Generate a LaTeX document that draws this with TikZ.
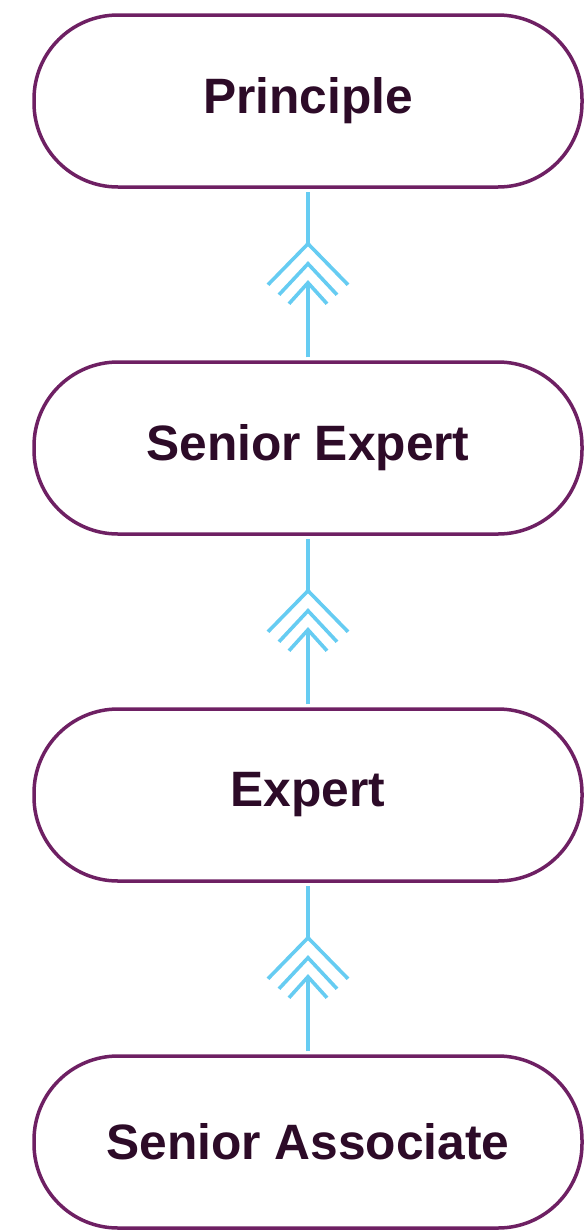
\documentclass[tikz,border=0pt]{standalone}
\usepackage{fontspec}
\setmainfont{Liberation Sans}
\usetikzlibrary{calc}
\definecolor{rimpurple}{HTML}{6E2063}
\definecolor{labeltext}{HTML}{2D0B28}
\definecolor{linkblue}{HTML}{66CCF2}
\tikzset{
    level/.style={draw=rimpurple, line width=3.5pt, fill=white, rounded corners=84pt,
        minimum width=548pt, minimum height=172pt, inner sep=0pt, text=labeltext,
        font=\fontsize{49.7}{60}\selectfont\bfseries},
    link/.style={draw=linkblue, line width=3.6pt},
    chevrons/.pic={
        \draw[link] (-40,41) -- (0,0) -- (40,41);
        \draw[link] (-29,51) -- (0,20) -- (29,51);
        \draw[link] (-19,60) -- (0,39) -- (19,60);
    }
}

\begin{document}
\begin{tikzpicture}[x=1pt,y=-1pt]
            \useasboundingbox (0,0) rectangle (588,1232);
            \node[level] (pr) at (308,101) {Principle};
            \node[level] (se) at (308,448) {Senior Expert};
            \node[level] (ex) at (308,795) {Expert};
            \node[level] (sa) at (308,1142) {Senior Associate};
            % tips of the chevrons
            \coordinate (t1) at ($(pr.south)+(0,55)$);
            \coordinate (b1) at ($(t1)+(0,39)$);
            \coordinate (t2) at ($(se.south)+(0,55)$);
            \coordinate (b2) at ($(t2)+(0,39)$);
            \coordinate (t3) at ($(ex.south)+(0,55)$);
            \coordinate (b3) at ($(t3)+(0,39)$);
            \draw[link, shorten >=3pt] (t1) -- (pr.south);
            \draw[link, shorten <=3pt] (se.north) -- (b1);
            \draw[link, shorten >=3pt] (t2) -- (se.south);
            \draw[link, shorten <=3pt] (ex.north) -- (b2);
            \draw[link, shorten >=3pt] (t3) -- (ex.south);
            \draw[link, shorten <=3pt] (sa.north) -- (b3);
            \pic at (t1) {chevrons};
            \pic at (t2) {chevrons};
            \pic at (t3) {chevrons};
\end{tikzpicture}
\end{document}
